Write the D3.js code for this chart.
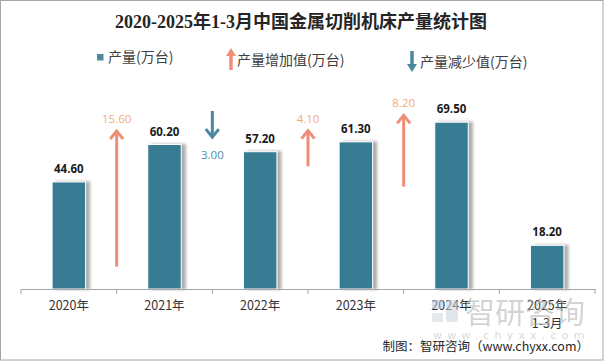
<!DOCTYPE html>
<html><head><meta charset="utf-8">
<script src="https://cdn.jsdelivr.net/npm/d3@7/dist/d3.min.js"></script>
<style>
html,body{margin:0;padding:0;background:#fff;}
svg{display:block;}
</style></head>
<body>
<script>
const categories = ["2020年","2021年","2022年","2023年","2024年","2025年"];
const subLabels = ["","","","","","1-3月"];
const production = [44.6, 60.2, 57.2, 61.3, 69.5, 18.2];
const changeYears = ["2021年","2022年","2023年","2024年"];
const changeValues = [15.6, -3.0, 4.1, 8.2];
const changeTail = [2.56, 20.46, 14.1, 11.76];

const W = 604, H = 361;
const cjk = "'Noto Sans CJK SC', 'Liberation Sans', sans-serif";
const svg = d3.select("body").append("svg").attr("width", W).attr("height", H);

const defs = svg.append("defs");
const f = defs.append("filter").attr("id","sh").attr("x","-20%").attr("y","-10%").attr("width","160%").attr("height","120%");
f.append("feDropShadow").attr("dx",4).attr("dy",0).attr("stdDeviation",1.8)
  .attr("flood-color","#7f7f7f").attr("flood-opacity",0.65);

// border
svg.append("rect").attr("x",0.5).attr("y",0.5).attr("width",W-1.5).attr("height",H-1.5)
  .attr("fill","#fff").attr("stroke","#a6a6a6");

// title
svg.append("text").attr("x",301).attr("y",28).attr("text-anchor","middle")
  .style("font-family","'Liberation Serif', 'Noto Sans CJK SC', serif").style("font-weight","bold")
  .style("font-size","18px").attr("fill","#262626")
  .text("2020-2025年1-3月中国金属切削机床产量统计图");

const x = d3.scaleBand().domain(categories).range([21, 595]).padding(0);
const y = d3.scaleLinear().domain([0, 80]).range([289, 97]);
const y2 = d3.scaleLinear().domain([0, 22]).range([289, 97.6]);
const barW = x.bandwidth() * 0.35;

const barColor = "#377b93", upColor = "#ef8e78", downColor = "#4b87a1";

// bars
const bars = svg.append("g");
bars.selectAll("rect").data(production).join("rect")
  .attr("x",(d,i)=>x(categories[i]) + x.bandwidth()/2 - barW/2)
  .attr("y",d=>y(d)).attr("width",barW).attr("height",d=>y(0)-y(d))
  .attr("fill",barColor).attr("stroke","#fff").attr("stroke-width",1)
  .attr("filter","url(#sh)");
bars.selectAll("text").data(production).join("text")
  .attr("x",(d,i)=>x(categories[i]) + x.bandwidth()/2)
  .attr("y",d=>y(d)-9).attr("text-anchor","middle")
  .style("font-family","'Open Sans','Liberation Sans',sans-serif").style("font-weight","bold")
  .style("font-size","11.5px").attr("fill","#1a1a1a")
  .text(d=>d.toFixed(2));

// axis
const axisY = y(0);
const axis = svg.append("g").attr("transform",`translate(0,${axisY})`);
axis.call(d3.axisBottom(x).tickSize(0).tickFormat(""));
axis.select(".domain").attr("stroke","#a6a6a6");
const bounds = categories.map(c=>x(c)).concat([x.range()[1]]);
axis.selectAll(".tk").data(bounds).join("line").attr("class","tk")
  .attr("x1",d=>d).attr("x2",d=>d).attr("y1",0).attr("y2",5).attr("stroke","#a6a6a6");
const lab = svg.append("g");
lab.selectAll("text.c").data(categories).join("text").attr("class","c")
  .attr("x",d=>x(d)+x.bandwidth()/2).attr("y",axisY+21).attr("text-anchor","middle")
  .style("font-family",cjk).style("font-size","12.5px").attr("fill","#333")
  .text(d=>d);
lab.selectAll("text.s").data(subLabels).join("text").attr("class","s")
  .attr("x",(d,i)=>x(categories[i])+x.bandwidth()/2).attr("y",axisY+39).attr("text-anchor","middle")
  .style("font-family",cjk).style("font-size","12.5px").attr("fill","#333")
  .text(d=>d);

// change arrows
const arr = svg.append("g");
changeValues.forEach((v,i)=>{
  const cx = x(changeYears[i]);
  const tail = y2(changeTail[i]);
  const tip = y2(changeTail[i] + v);
  const up = v > 0;
  const col = up ? upColor : downColor;
  const dir = up ? 1 : -1;
  arr.append("line").attr("x1",cx).attr("x2",cx).attr("y1",tail).attr("y2",tip+dir*1)
    .attr("stroke",col).attr("stroke-width",3);
  arr.append("path").attr("d",`M${cx-6.5},${tip+dir*8}L${cx},${tip}L${cx+6.5},${tip+dir*8}`)
    .attr("fill","none").attr("stroke",col).attr("stroke-width",3).attr("stroke-linejoin","miter");
  arr.append("text").attr("x",cx).attr("y", up ? tip-8 : tip+22).attr("text-anchor","middle")
    .style("font-family","'Open Sans','Liberation Sans',sans-serif").style("font-size","11.5px")
    .attr("fill", up ? "#f3ab74" : "#4f8fae")
    .text(Math.abs(v).toFixed(2));
});

// legend
const lg = svg.append("g").style("font-family",cjk).style("font-size","14px").attr("fill","#404040");
lg.append("rect").attr("x",97).attr("y",54).attr("width",6.5).attr("height",6.5).attr("fill","#4a8aa3");
lg.append("text").attr("x",108).attr("y",62).text("产量(万台)");
// up legend arrow
lg.append("line").attr("x1",231).attr("x2",231).attr("y1",70).attr("y2",54).attr("stroke",upColor).attr("stroke-width",3.5);
lg.append("path").attr("d","M226,56L231,48L236,56Z").attr("fill",upColor);
lg.append("text").attr("x",237).attr("y",65).text("产量增加值(万台)");
// down legend arrow
lg.append("line").attr("x1",412).attr("x2",412).attr("y1",51).attr("y2",66).attr("stroke",downColor).attr("stroke-width",3.5);
lg.append("path").attr("d","M407,64L412,72L417,64Z").attr("fill",downColor);
lg.append("text").attr("x",420).attr("y",67).text("产量减少值(万台)");

// watermark
const wm = svg.append("g").attr("opacity",0.55);
wm.append("rect").attr("x",432).attr("y",300).attr("width",11).attr("height",9).attr("fill","#b5c6d6");
wm.append("rect").attr("x",446).attr("y",300).attr("width",12).attr("height",22).attr("rx",3).attr("fill","#c9d3dc");
wm.append("rect").attr("x",432).attr("y",313).attr("width",11).attr("height",9).attr("fill","#d0d6dc");
wm.append("text").attr("x",465).attr("y",323).style("font-family",cjk).style("font-size","30px")
  .attr("fill","#b0b0b0").text("智研咨询");
wm.append("text").attr("x",433).attr("y",339).style("font-family","'DejaVu Sans',sans-serif").style("font-size","11px")
  .style("letter-spacing","5.2px").attr("fill","#b8b8b8").text("www.chyxx.com");

// credit
svg.append("text").attr("x",589).attr("y",351).attr("text-anchor","end")
  .style("font-family",cjk).style("font-size","12.5px").attr("fill","#262626")
  .text("制图：智研咨询（www.chyxx.com）");
</script>
</body></html>
